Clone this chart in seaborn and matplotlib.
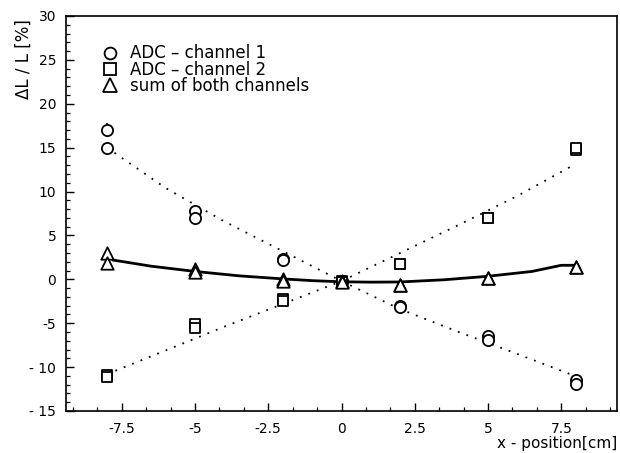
import numpy as np
import pandas as pd
import matplotlib
matplotlib.use("Agg")
import matplotlib.pyplot as plt
from matplotlib.lines import Line2D
from matplotlib.ticker import AutoMinorLocator
import seaborn as sns

# ---- data ----
x_pos = [-8, -8, -5, -5, -2, -2, 0, 0, 2, 2, 5, 5, 8, 8]
ch1 = [17.0, 15.0, 7.8, 7.0, 2.3, 2.2, -0.2, -0.3, -3.0, -3.1, -6.5, -6.9, -11.5, -11.9]
ch1_err = [0.8, 0.3, 0.4, 0.3, 0.3, 0.3, 0.3, 0.3, 0.3, 0.3, 0.4, 0.4, 0.3, 0.3]
ch2 = [-10.9, -11.1, -5.1, -5.6, -2.2, -2.5, -0.2, -0.3, 1.8, 1.8, 7.0, 7.0, 14.7, 15.0]
ch2_err = [0.3, 0.3, 0.4, 0.4, 0.3, 0.3, 0.3, 0.3, 0.3, 0.3, 0.3, 0.3, 0.3, 0.3]
sum_ch = [3.0, 1.9, 1.2, 0.8, 0.0, -0.2, -0.2, -0.3, -0.7, -0.7, 0.1, 0.1, 1.4, 1.4]

# fitted curves
fit_x = [-8, -6, -4, -2, 0, 2, 4, 6, 7.8]
fit_ch1 = [15.0, 10.4, 6.6, 3.2, -0.2, -3.4, -6.0, -8.5, -10.8]
fit_ch2 = [-10.8, -8.1, -5.4, -2.8, -0.2, 3.0, 6.2, 9.5, 12.8]
sum_fit_x = [-7.8, -6.5, -5, -3.5, -2, -1, 0, 1, 2, 3.5, 5, 6.5, 7.5, 8]
sum_fit = [2.2, 1.5, 0.9, 0.4, 0.05, -0.15, -0.28, -0.32, -0.3, -0.05, 0.35, 0.9, 1.6, 1.6]

x_ticks = [-7.5, -5, -2.5, 0, 2.5, 5, 7.5]
x_tick_labels = ["-7.5", "-5", "-2.5", "0", "2.5", "5", "7.5"]
y_ticks = [-15, -10, -5, 0, 5, 10, 15, 20, 25, 30]
y_tick_labels = ["- 15", "- 10", "-5", "0", "5", "10", "15", "20", "25", "30"]
legend_labels = ["ADC \u2013 channel 1", "ADC \u2013 channel 2", "sum of both channels"]

sns.set_theme(style="ticks")
plt.rcParams["font.family"] = ["DejaVu Sans"]
plt.rcParams["text.color"] = "black"
plt.rcParams["axes.labelcolor"] = "black"

fig = plt.figure(figsize=(6.2, 4.53), dpi=100)
ax = fig.add_axes([66 / 620, 42 / 453, 551 / 620, 395 / 453])

df = pd.DataFrame({"x": x_pos, "ch1": ch1, "ch2": ch2, "sum": sum_ch})
fit_df = pd.DataFrame({"x": fit_x, "ch1": fit_ch1, "ch2": fit_ch2})
sum_df = pd.DataFrame({"x": sum_fit_x, "y": sum_fit})

# fit lines
sns.lineplot(data=fit_df, x="x", y="ch1", ax=ax, color="black", lw=1.3,
             linestyle=(0, (1.0, 4)), sort=False)
sns.lineplot(data=fit_df, x="x", y="ch2", ax=ax, color="black", lw=1.3,
             linestyle=(0, (1.0, 4)), sort=False)
sns.lineplot(data=sum_df, x="x", y="y", ax=ax, color="black", lw=2.0, sort=False)

# error bars
ax.errorbar(x_pos, ch1, yerr=ch1_err, fmt="none", ecolor="black", elinewidth=1.2)
ax.errorbar(x_pos, ch2, yerr=ch2_err, fmt="none", ecolor="black", elinewidth=1.2)

mk = dict(facecolor="white", edgecolor="black", linewidth=1.3, zorder=5)
sns.scatterplot(data=df, x="x", y="ch1", marker="o", s=65, ax=ax, **mk)
sns.scatterplot(data=df, x="x", y="ch2", marker="s", s=55, ax=ax, **mk)
sns.scatterplot(data=df, x="x", y="sum", marker="^", s=80, ax=ax, **mk)

ax.set_xlim(-9.4, 9.4)
ax.set_ylim(-15, 30)
ax.set_xticks(x_ticks)
ax.set_xticklabels(x_tick_labels)
ax.set_yticks(y_ticks)
ax.set_yticklabels(y_tick_labels)
ax.xaxis.set_minor_locator(AutoMinorLocator(3))
ax.yaxis.set_minor_locator(AutoMinorLocator(5))
ax.tick_params(which="major", direction="in", length=6, width=1.0, labelsize=10,
               color="black", labelcolor="black")
ax.tick_params(axis="x", which="major", pad=8)
ax.tick_params(axis="y", which="major", pad=7)
ax.tick_params(which="minor", direction="in", length=3, width=0.9, color="black")
for sp in ax.spines.values():
    sp.set_visible(True)
    sp.set_color("black")
    sp.set_linewidth(1.2)

ax.set_ylabel("\u0394L / L [%]", fontsize=12, color="black")
ax.yaxis.set_label_coords(-0.06, 0.89)
ax.set_xlabel("x - position[cm]", fontsize=11, color="black", loc="right")
ax.xaxis.set_label_coords(1.0, -0.063)

handles = [
    Line2D([], [], marker="o", ls="none", mfc="white", mec="black", mew=1.3, ms=8.5),
    Line2D([], [], marker="s", ls="none", mfc="white", mec="black", mew=1.3, ms=8),
    Line2D([], [], marker="^", ls="none", mfc="white", mec="black", mew=1.3, ms=9.5),
]
leg = ax.legend(handles, legend_labels, loc="upper left", bbox_to_anchor=(0.05, 0.945),
                frameon=False, fontsize=12, handletextpad=0.6, labelspacing=-0.1,
                handlelength=1.2, borderaxespad=0)
for t in leg.get_texts():
    t.set_color("black")

fig.savefig("out.png", dpi=100)
